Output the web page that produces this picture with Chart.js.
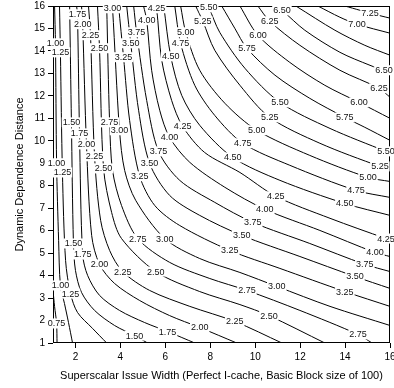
<!DOCTYPE html>
<html>
<head>
<meta charset="utf-8">
<script src="https://cdn.jsdelivr.net/npm/chart.js@4.4.0/dist/chart.umd.min.js"></script>
<style>
  body { margin: 0; background: #fff; }
  #wrap { width: 394px; height: 388px; }
</style>
</head>
<body>
<div id="wrap"><canvas id="myChart" width="394" height="388"></canvas></div>
<script>
// contour levels and the traced (issue width, dependence distance) points of each line
const levels = [0.75, 1.00, 1.25, 1.50, 1.75, 2.00, 2.25, 2.50, 2.75, 3.00, 3.25, 3.50, 3.75, 4.00,
                4.25, 4.50, 4.75, 5.00, 5.25, 5.50, 5.75, 6.00, 6.25, 6.50, 6.75, 7.00, 7.25];

const lineX = [
  [1.00, 1.07, 1.16, 1.18],
  [1.07, 1.11, 1.16, 1.25, 1.33, 1.51, 1.69, 1.87],
  [1.29, 1.33, 1.42, 1.56, 1.78, 2.09, 2.76, 3.39],
  [1.74, 1.82, 1.91, 2.00, 2.27, 2.85, 3.74, 4.63, 5.21],
  [2.05, 2.09, 2.18, 2.32, 2.54, 3.07, 3.96, 5.08, 6.10, 7.31],
  [2.27, 2.32, 2.49, 2.72, 3.07, 3.74, 4.86, 6.19, 7.53, 9.18],
  [2.58, 2.67, 2.85, 3.12, 3.52, 4.10, 5.30, 7.09, 9.09, 11.19],
  [2.98, 3.07, 3.25, 3.61, 4.05, 5.57, 7.53, 9.32, 10.61, 13.10],
  [3.39, 3.52, 3.65, 4.05, 4.77, 6.19, 7.98, 9.63, 11.99, 14.58, 15.20],
  [3.61, 3.65, 3.96, 4.19, 4.68, 5.97, 7.53, 9.32, 10.96, 13.33, 16],
  [3.92, 4.14, 4.41, 4.86, 5.53, 6.64, 8.87, 11.10, 13.99, 16],
  [4.28, 4.46, 4.81, 5.30, 6.19, 7.53, 9.40, 11.99, 14.44, 16],
  [4.59, 4.72, 5.17, 5.70, 6.64, 8.20, 9.89, 12.43, 14.88, 16],
  [5.03, 5.17, 5.39, 5.75, 6.19, 7.09, 8.65, 10.43, 12.88, 15.33, 16],
  [5.53, 5.61, 5.84, 6.28, 6.77, 7.75, 9.32, 10.92, 13.33, 15.82, 16],
  [5.93, 6.24, 6.73, 7.53, 9.00, 11.10, 13.99, 16],
  [6.42, 6.68, 7.31, 8.20, 9.45, 11.54, 14.49, 16],
  [6.68, 6.91, 7.53, 8.65, 10.07, 12.43, 15.02, 16],
  [7.35, 7.67, 8.20, 9.32, 10.65, 12.88, 15.55, 16],
  [7.84, 7.93, 8.42, 9.54, 11.10, 13.33, 15.82, 16],
  [8.51, 9.09, 9.63, 10.88, 12.43, 13.99, 14.88, 16],
  [9.32, 10.12, 11.54, 13.10, 14.62, 16],
  [10.12, 10.65, 11.99, 13.77, 15.51, 16],
  [10.88, 11.19, 12.21, 13.77, 15.11, 15.73, 16],
  [11.81, 13.55, 14.88, 16],
  [12.79, 13.77, 14.53, 16],
  [13.99, 14.66, 15.11, 16]
];

const lineY = [
  [3.34, 2.63, 1.87, 1.00],
  [16, 14.34, 9.00, 5.57, 3.56, 2.76, 1.91, 1.00],
  [16, 13.94, 8.59, 4.67, 3.20, 2.36, 1.65, 1.00],
  [16, 10.82, 5.43, 4.23, 3.25, 2.45, 1.78, 1.33, 1.00],
  [16, 15.63, 10.33, 4.94, 4.01, 3.12, 2.45, 1.91, 1.51, 1.00],
  [16, 15.19, 9.84, 5.79, 4.50, 3.65, 2.89, 2.22, 1.69, 1.00],
  [16, 14.70, 9.31, 6.46, 5.12, 4.18, 3.34, 2.63, 1.96, 1.00],
  [16, 14.12, 8.77, 6.81, 5.65, 4.18, 3.29, 2.71, 2.22, 1.00],
  [16, 10.82, 8.68, 7.12, 5.65, 4.59, 3.87, 3.34, 2.45, 1.38, 1.00],
  [16, 15.90, 10.47, 8.68, 7.35, 5.65, 4.76, 4.14, 3.52, 2.63, 1.78],
  [16, 13.72, 10.91, 8.42, 7.12, 6.23, 5.12, 4.32, 3.29, 2.63],
  [16, 14.34, 11.36, 9.00, 7.57, 6.68, 5.79, 4.85, 3.96, 3.43],
  [16, 14.83, 11.80, 9.53, 8.24, 7.26, 6.37, 5.43, 4.50, 4.18],
  [16, 15.37, 13.14, 11.36, 10.15, 9.04, 7.93, 6.95, 6.01, 5.03, 4.85],
  [16, 15.90, 13.58, 11.80, 10.64, 9.48, 8.59, 7.53, 6.55, 5.65, 5.61],
  [16, 13.76, 12.02, 10.69, 9.26, 8.24, 7.21, 6.68],
  [16, 14.34, 12.47, 11.13, 9.89, 8.91, 7.79, 7.48],
  [16, 14.83, 13.14, 11.67, 10.47, 9.35, 8.37, 8.19],
  [16, 15.32, 14.03, 12.47, 11.04, 9.89, 8.86, 8.77],
  [16, 15.94, 14.83, 13.23, 11.71, 10.55, 9.53, 9.48],
  [16, 15.01, 14.12, 12.92, 11.89, 11.04, 10.60, 10.02],
  [16, 14.70, 13.49, 12.47, 11.71, 11.00],
  [16, 15.32, 14.25, 13.14, 12.34, 11.94],
  [16, 15.81, 14.92, 13.94, 13.36, 13.14, 13.09],
  [16, 14.92, 14.25, 13.81],
  [16, 15.50, 15.19, 14.79],
  [16, 15.81, 15.68, 15.46]
];

// which points of each line carry the level label
const labelAt = [
  [2], [1, 2, 4], [1, 2, 4], [1, 2, 7], [1, 2, 3, 8], [1, 2, 4, 8], [1, 2, 5, 8], [1, 2, 5, 8],
  [1, 4, 7, 9], [1, 2, 5, 8], [1, 3, 6, 8], [1, 3, 6, 8], [1, 3, 6, 8], [1, 4, 7, 9], [1, 4, 7, 9],
  [1, 4, 6], [1, 4, 6], [1, 4, 6], [1, 4, 6], [1, 4, 6], [2, 5], [1, 4], [1, 4], [1, 5], [], [2], [2]
];

const xTicks = [2, 4, 6, 8, 10, 12, 14, 16];
const yTicks = [1, 2, 3, 4, 5, 6, 7, 8, 9, 10, 11, 12, 13, 14, 15, 16];

const FONT = '"Liberation Sans", Arial, sans-serif';

// box around the plot, then the level numbers on white patches over the lines
const contourLabels = {
  id: 'contourLabels',
  afterDatasetsDraw(chart) {
    const ctx = chart.ctx;
    const a = chart.chartArea;
    const xs = chart.scales.x, ys = chart.scales.y;
    ctx.save();
    ctx.strokeStyle = '#000';
    ctx.lineWidth = 1;
    ctx.strokeRect(Math.round(a.left) + 0.5, Math.round(a.top) + 0.5,
                   Math.round(a.right - a.left) - 1, Math.round(a.bottom - a.top) - 1);
    ctx.font = '9px ' + FONT;
    ctx.textAlign = 'center';
    ctx.textBaseline = 'middle';
    levels.forEach((lv, i) => {
      labelAt[i].forEach(k => {
        const px = xs.getPixelForValue(lineX[i][k]);
        const py = ys.getPixelForValue(lineY[i][k]);
        const txt = lv.toFixed(2);
        const w = ctx.measureText(txt).width;
        ctx.fillStyle = '#fff';
        ctx.fillRect(px - w / 2 - 1, py - 5, w + 2, 10);
        ctx.fillStyle = '#111';
        ctx.fillText(txt, px, py + 0.5);
      });
    });
    ctx.restore();
  }
};

const ctx = document.getElementById('myChart');

new Chart(ctx, {
  type: 'scatter',
  data: {
    datasets: levels.map((lv, i) => ({
      label: lv.toFixed(2),
      data: lineX[i].map((x, k) => ({ x: x, y: lineY[i][k] })),
      showLine: true,
      borderColor: '#000',
      borderWidth: 1,
      pointRadius: 0,
      pointHoverRadius: 0,
      tension: 0.3,
      fill: false
    }))
  },
  options: {
    responsive: false,
    animation: false,
    devicePixelRatio: 1,
    layout: { padding: { top: 6, right: 4, left: 0, bottom: 0 } },
    plugins: {
      legend: { display: false },
      tooltip: { enabled: false }
    },
    scales: {
      x: {
        type: 'linear',
        min: 1,
        max: 16,
        afterBuildTicks: s => { s.ticks = xTicks.map(v => ({ value: v })); },
        afterFit: s => { s.height = 45; s.paddingLeft = 0; s.paddingRight = 0; },
        grid: { drawOnChartArea: false, drawTicks: true, tickLength: 5, color: '#000' },
        border: { display: false },
        ticks: { color: '#000', padding: 3, maxRotation: 0, font: { family: FONT, size: 10 } },
        title: {
          display: true,
          text: 'Superscalar Issue Width (Perfect I-cache, Basic Block size of 100)',
          color: '#000',
          font: { family: FONT, size: 11 },
          padding: { top: 0, bottom: 5 }
        }
      },
      y: {
        type: 'linear',
        min: 1,
        max: 16,
        afterBuildTicks: s => { s.ticks = yTicks.map(v => ({ value: v })); },
        afterFit: s => { s.width = 53; s.paddingTop = 0; s.paddingBottom = 0; },
        grid: { drawOnChartArea: false, drawTicks: true, tickLength: 5, color: '#000' },
        border: { display: false },
        ticks: { color: '#000', padding: 3, font: { family: FONT, size: 10 } },
        title: {
          display: true,
          text: 'Dynamic Dependence Distance',
          color: '#000',
          font: { family: FONT, size: 11 },
          padding: { top: 13, bottom: 0 }
        }
      }
    }
  },
  plugins: [contourLabels]
});
</script>
</body>
</html>
